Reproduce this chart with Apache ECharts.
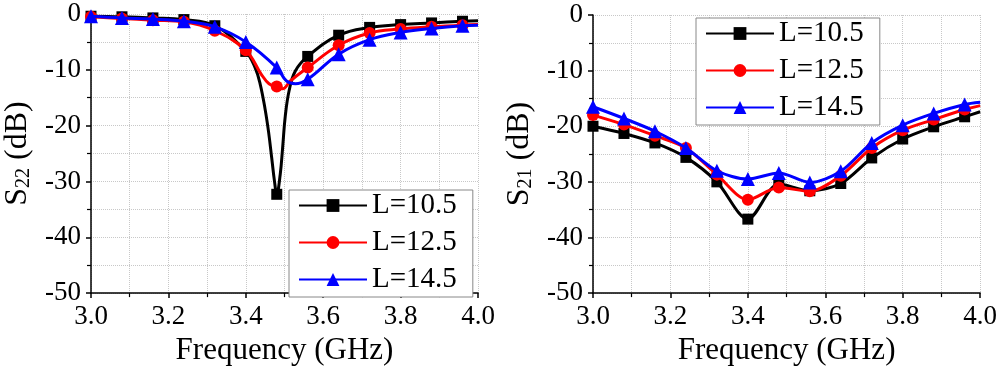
<!DOCTYPE html>
<html><head><meta charset="utf-8">
<script src="https://cdn.jsdelivr.net/npm/echarts@6/dist/echarts.min.js"></script>
<style>html,body{margin:0;padding:0;background:#fff}#c{width:1000px;height:371px}</style>
</head><body><div id="c"></div>
<script>
// Legend / series names
const seriesNames = ['L=10.5', 'L=12.5', 'L=14.5'];
// Frequencies (GHz) where symbols are drawn
const markerFreqs = [3.0, 3.08, 3.16, 3.24, 3.32, 3.40, 3.48, 3.56, 3.64, 3.72, 3.80, 3.88, 3.96];

// Left panel: S22 (dB)
const s22FreqA = [3.0, 3.08, 3.16, 3.24, 3.32, 3.40, 3.424, 3.437, 3.450, 3.459, 3.467, 3.474, 3.48, 3.489, 3.495, 3.502, 3.512, 3.528, 3.56, 3.64, 3.72, 3.80, 3.88, 3.96, 4.0];
const s22A =     [-0.4, -0.5, -0.7, -1.0, -2.1, -6.7, -9.6, -12.5, -17.1, -21.2, -25.8, -29.9, -32.3, -28.7, -24.1, -18.3, -13.7, -10.2, -7.6, -3.8, -2.4, -1.9, -1.6, -1.3, -1.2];
const s22FreqB = [3.0, 3.08, 3.16, 3.24, 3.32, 3.40, 3.44, 3.46, 3.48, 3.495, 3.515, 3.56, 3.64, 3.72, 3.80, 3.88, 3.96, 4.0];
const s22B =     [-0.5, -0.8, -1.1, -1.4, -3.0, -6.5, -10.8, -12.5, -13.0, -13.4, -12.0, -9.6, -5.6, -3.4, -2.7, -2.3, -2.0, -1.9];
const s22FreqC = [3.0, 3.08, 3.16, 3.24, 3.32, 3.40, 3.48, 3.505, 3.528, 3.56, 3.64, 3.72, 3.80, 3.88, 3.96, 4.0];
const s22C =     [-0.4, -0.7, -0.9, -1.3, -2.3, -5.0, -9.6, -12.0, -12.5, -11.7, -7.2, -4.6, -3.3, -2.6, -2.1, -2.0];

// Right panel: S21 (dB)
const s21Freq = [3.0, 3.08, 3.16, 3.24, 3.32, 3.40, 3.48, 3.56, 3.64, 3.72, 3.80, 3.88, 3.96, 4.0];
const s21A = [-20.0, -21.3, -23.0, -25.6, -30.0, -36.7, -30.4, -31.6, -30.3, -25.7, -22.3, -20.1, -18.3, -17.4];
const s21B = [-18.0, -19.7, -21.7, -23.9, -28.7, -33.2, -31.0, -31.7, -28.9, -23.9, -20.7, -18.8, -17.0, -16.3];
const s21C = [-16.5, -18.6, -20.9, -23.9, -28.0, -29.5, -28.4, -30.1, -28.1, -23.0, -19.8, -17.7, -16.1, -15.7];

// Axis ticks
const xTickMin = 3.0, xTickMax = 4.0, xTickStep = 0.2;
const yTickMin = -50, yTickMax = 0, yTickStep = 10;

const FONT = '"Liberation Serif", "Times New Roman", serif';
const colors = ['#000000', '#ff0000', '#0000ff'];
const symbols = ['rect', 'circle', 'triangle'];
const symSizes = [11, 12, 14];

function build(freqs, vals) {
  return freqs.map((f, i) => {
    const isMarker = markerFreqs.some(m => Math.abs(m - f) < 1e-6);
    const item = { value: [f, vals[i]] };
    if (!isMarker) item.symbol = 'none';
    return item;
  });
}

function xAxis(gi) {
  return {
    gridIndex: gi, type: 'value', min: xTickMin, max: xTickMax, interval: xTickStep,
    axisLine: { show: true, onZero: false, lineStyle: { color: '#000', width: 1.5 } },
    axisTick: { show: true, length: 5, lineStyle: { color: '#000', width: 1.5 } },
    minorTick: { show: true, splitNumber: 2, length: 4, lineStyle: { color: '#000', width: 1.2 } },
    splitLine: { show: true, lineStyle: { type: 'dotted', color: '#c8c8c8', width: 1 } },
    minorSplitLine: { show: true, lineStyle: { type: 'dotted', color: '#c8c8c8', width: 1 } },
    axisLabel: { color: '#000', fontFamily: FONT, fontSize: 27, margin: 10, formatter: v => v.toFixed(1) },
    name: 'Frequency (GHz)', nameLocation: 'middle', nameGap: 38,
    nameTextStyle: { color: '#000', fontFamily: FONT, fontSize: 31 }
  };
}
function yAxis(gi, sub) {
  return {
    gridIndex: gi, type: 'value', min: yTickMin, max: yTickMax, interval: yTickStep,
    axisLine: { show: true, onZero: false, lineStyle: { color: '#000', width: 1.5 } },
    axisTick: { show: true, length: 5, lineStyle: { color: '#000', width: 1.5 } },
    minorTick: { show: true, splitNumber: 2, length: 4, lineStyle: { color: '#000', width: 1.2 } },
    splitLine: { show: true, lineStyle: { type: 'dotted', color: '#c8c8c8', width: 1 } },
    minorSplitLine: { show: true, lineStyle: { type: 'dotted', color: '#c8c8c8', width: 1 } },
    axisLabel: { color: '#000', fontFamily: FONT, fontSize: 27, margin: 10 },
    name: '{s|S}{b|' + sub + '}{s| (dB)}', nameLocation: 'middle', nameGap: 57, nameRotate: 90,
    nameTextStyle: {
      color: '#000', fontFamily: FONT, fontSize: 32,
      rich: {
        s: { fontFamily: FONT, fontSize: 32, color: '#000', lineHeight: 32, verticalAlign: 'bottom' },
        b: { fontFamily: FONT, fontSize: 20, color: '#000', lineHeight: 10, verticalAlign: 'bottom' }
      }
    }
  };
}
function lineSeries(k, name, gi, data, smooth) {
  return {
    type: 'line', name: name, xAxisIndex: gi, yAxisIndex: gi, data: data,
    smooth: smooth, showAllSymbol: true,
    symbol: symbols[k], symbolSize: symSizes[k],
    lineStyle: { color: colors[k], width: 3 },
    itemStyle: { color: colors[k] },
    z: 2 + k, animation: false, clip: true
  };
}
function legend(left, top) {
  return {
    left: left, top: top, orient: 'vertical', data: seriesNames,
    itemWidth: 68, itemHeight: 16, itemGap: 8,
    padding: [1, 16, 3, 9],
    borderColor: '#888', borderWidth: 1, backgroundColor: '#fff',
    textStyle: { color: '#000', fontFamily: FONT, fontSize: 29, lineHeight: 29 },
    selectedMode: false
  };
}

const chart = echarts.init(document.getElementById('c'), null, { renderer: 'canvas' });
chart.setOption({
  backgroundColor: '#fff',
  animation: false,
  grid: [
    { left: 91, top: 14, width: 387, height: 289 },
    { left: 593, top: 15, width: 388, height: 288 }
  ],
  xAxis: [xAxis(0), xAxis(1)],
  yAxis: [yAxis(0, '22'), yAxis(1, '21')],
  legend: [legend(289, 190), legend(696, 18)],
  series: [
    lineSeries(0, seriesNames[0], 0, build(s22FreqA, s22A), 0.4),
    lineSeries(1, seriesNames[1], 0, build(s22FreqB, s22B), 0.4),
    lineSeries(2, seriesNames[2], 0, build(s22FreqC, s22C), 0.4),
    lineSeries(0, seriesNames[0], 1, build(s21Freq, s21A), 0.3),
    lineSeries(1, seriesNames[1], 1, build(s21Freq, s21B), 0.3),
    lineSeries(2, seriesNames[2], 1, build(s21Freq, s21C), 0.3)
  ]
});
</script></body></html>
